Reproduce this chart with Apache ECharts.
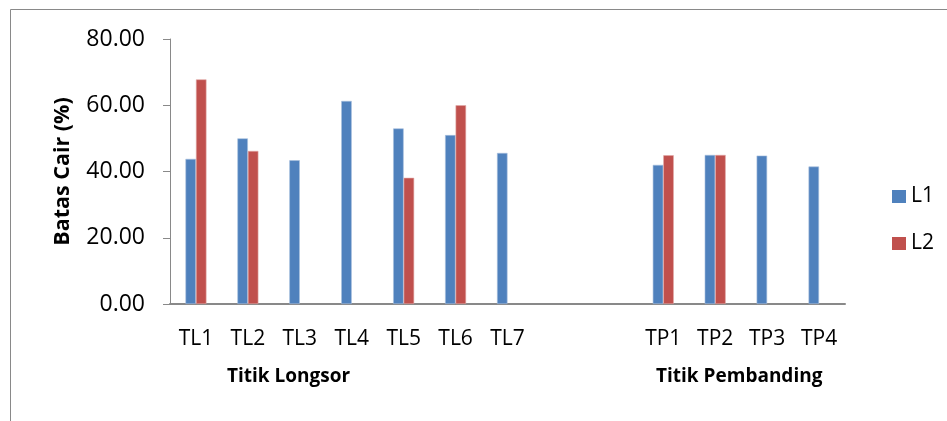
<!DOCTYPE html>
<html>
<head>
<meta charset="utf-8">
<script src="https://cdn.jsdelivr.net/npm/echarts@6/dist/echarts.min.js"></script>
<style>html,body{margin:0;padding:0;background:#fff;}#c{width:947px;height:421px;}</style>
</head>
<body>
<div id="c"></div>
<script>
const categories = ['TL1','TL2','TL3','TL4','TL5','TL6','TL7','','','TP1','TP2','TP3','TP4'];
const seriesNames = ['L1','L2'];
const valuesL1 = [43.8, 50.0, 43.4, 61.3, 53.0, 51.0, 45.6, null, null, 42.0, 45.0, 44.8, 41.5];
const valuesL2 = [67.8, 46.2, null, null, 38.1, 60.0, null, null, null, 44.9, 45.0, null, null];
const yTicks = [0, 20, 40, 60, 80];
const groupLabels = ['Titik Longsor', 'Titik Pembanding'];
const yTitle = 'Batas Cair (%)';

const FONT = 'Open Sans';
const chart = echarts.init(document.getElementById('c'), null, {renderer: 'canvas'});
chart.setOption({
  animation: false,
  backgroundColor: '#ffffff',
  textStyle: {fontFamily: FONT, color: '#000'},
  grid: {left: 170, right: 102, top: 39, bottom: 117, containLabel: false},
  legend: {
    data: seriesNames,
    orient: 'vertical',
    left: 887, top: 181,
    itemWidth: 14, itemHeight: 13, itemGap: 26,
    icon: 'rect',
    itemStyle: {borderWidth: 0},
    textStyle: {fontFamily: FONT, fontSize: 21, color: '#000', padding: [0,0,0,0]}
  },
  xAxis: {
    type: 'category',
    data: categories,
    axisLine: {show: true, lineStyle: {color: '#898989', width: 2}},
    axisTick: {show: false},
    axisLabel: {fontFamily: FONT, fontSize: 21, color: '#000', margin: 25, interval: 0}
  },
  yAxis: {
    type: 'value',
    min: yTicks[0], max: yTicks[yTicks.length-1], interval: 20,
    name: yTitle,
    nameLocation: 'middle',
    nameGap: 96,
    nameRotate: 90,
    nameTextStyle: {fontFamily: FONT, fontSize: 21.5, fontWeight: 'bold', color: '#000'},
    axisLine: {show: true, lineStyle: {color: '#898989', width: 1}},
    axisTick: {show: true, length: 7, inside: false, lineStyle: {color: '#898989'}},
    splitLine: {show: false},
    axisLabel: {fontFamily: FONT, fontSize: 23, color: '#000', margin: 25, formatter: v => v.toFixed(2)}
  },
  series: [
    {name: seriesNames[0], type: 'bar', data: valuesL1, barWidth: 10.5, barGap: '0%',
     itemStyle: {color: '#4F81BD', borderColor: '#A7C0DE', borderWidth: 0.6}},
    {name: seriesNames[1], type: 'bar', data: valuesL2, barWidth: 10.5, barGap: '0%',
     itemStyle: {color: '#C0504D', borderColor: '#E0A8A6', borderWidth: 0.6}}
  ],
  graphic: [
    {type: 'rect', shape: {x: 10.5, y: 9.5, width: 1200, height: 1200}, style: {fill: 'none', stroke: '#898989', lineWidth: 1}, silent: true},
    {type: 'text', left: 227, top: 367, style: {text: groupLabels[0], font: 'bold 19px "Open Sans"', fill: '#000'}},
    {type: 'text', left: 656, top: 367, style: {text: groupLabels[1], font: 'bold 19px "Open Sans"', fill: '#000'}}
  ]
});
</script>
</body>
</html>
